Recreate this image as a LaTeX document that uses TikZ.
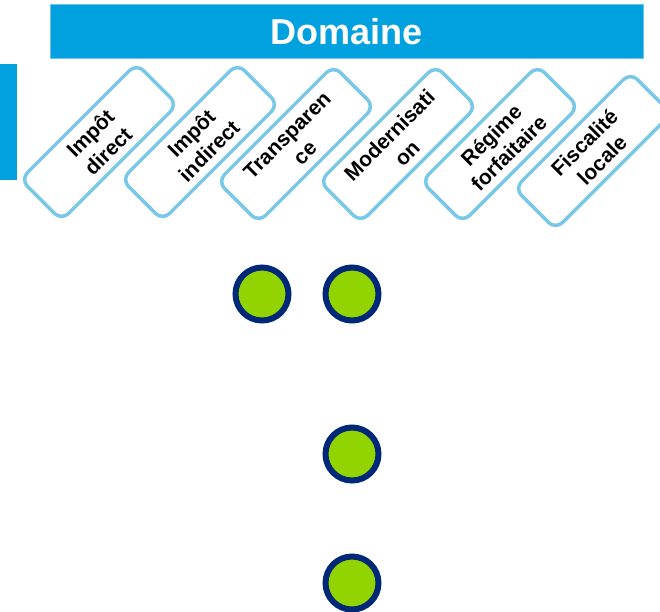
\documentclass[tikz,border=0pt]{standalone}
\usepackage{fontspec}
\setmainfont{Liberation Sans}
\definecolor{barblue}{RGB}{0,161,222}
\definecolor{baredge}{RGB}{110,196,235}
\definecolor{boxline}{RGB}{122,200,232}
\definecolor{navy}{RGB}{0,40,120}
\definecolor{lime}{RGB}{146,212,0}
\begin{document}
\begin{tikzpicture}[x=1pt,y=-1pt,
  domainbox/.style={draw=boxline, line width=3.5pt, fill=white,
    rounded corners=10pt, minimum width=164pt, minimum height=58pt,
    rotate=45, align=center, inner sep=0pt,
    font=\bfseries\fontsize{21}{25}\selectfont},
  dot/.style={circle, draw=navy, line width=6pt, fill=lime,
    minimum size=53pt, inner sep=0pt},
  bar/.style={fill=barblue, draw=baredge, line width=0.8pt, inner sep=0pt}]
\path[use as bounding box] (0,0) rectangle (660,611);

% header bar and side marker
\node[bar, minimum width=593pt, minimum height=54pt, anchor=north west,
  text=white, font=\bfseries\fontsize{36}{40}\selectfont] (title) at (50,4) {Domaine};
\node[bar, draw=none, minimum width=17pt, minimum height=116pt, anchor=north west] (side) at (0,64) {};

% tilted category boxes
\node[domainbox] (d1) at (99,142)  {Impôt\\direct};
\node[domainbox] (d2) at (200,142) {Impôt\\indirect};
\node[domainbox] (d3) at (296,144) {Transparen\\ce};
\node[domainbox] (d4) at (398,144) {Modernisati\\on};
\node[domainbox] (d5) at (500,144) {Régime\\forfaitaire};
\node[domainbox] (d6) at (593,151) {Fiscalité\\locale};

% markers
\node[dot] (m1) at (262,294) {};
\node[dot] (m2) at (352,294) {};
\node[dot] (m3) at (352,454) {};
\node[dot] (m4) at (352,583) {};
\end{tikzpicture}
\end{document}
